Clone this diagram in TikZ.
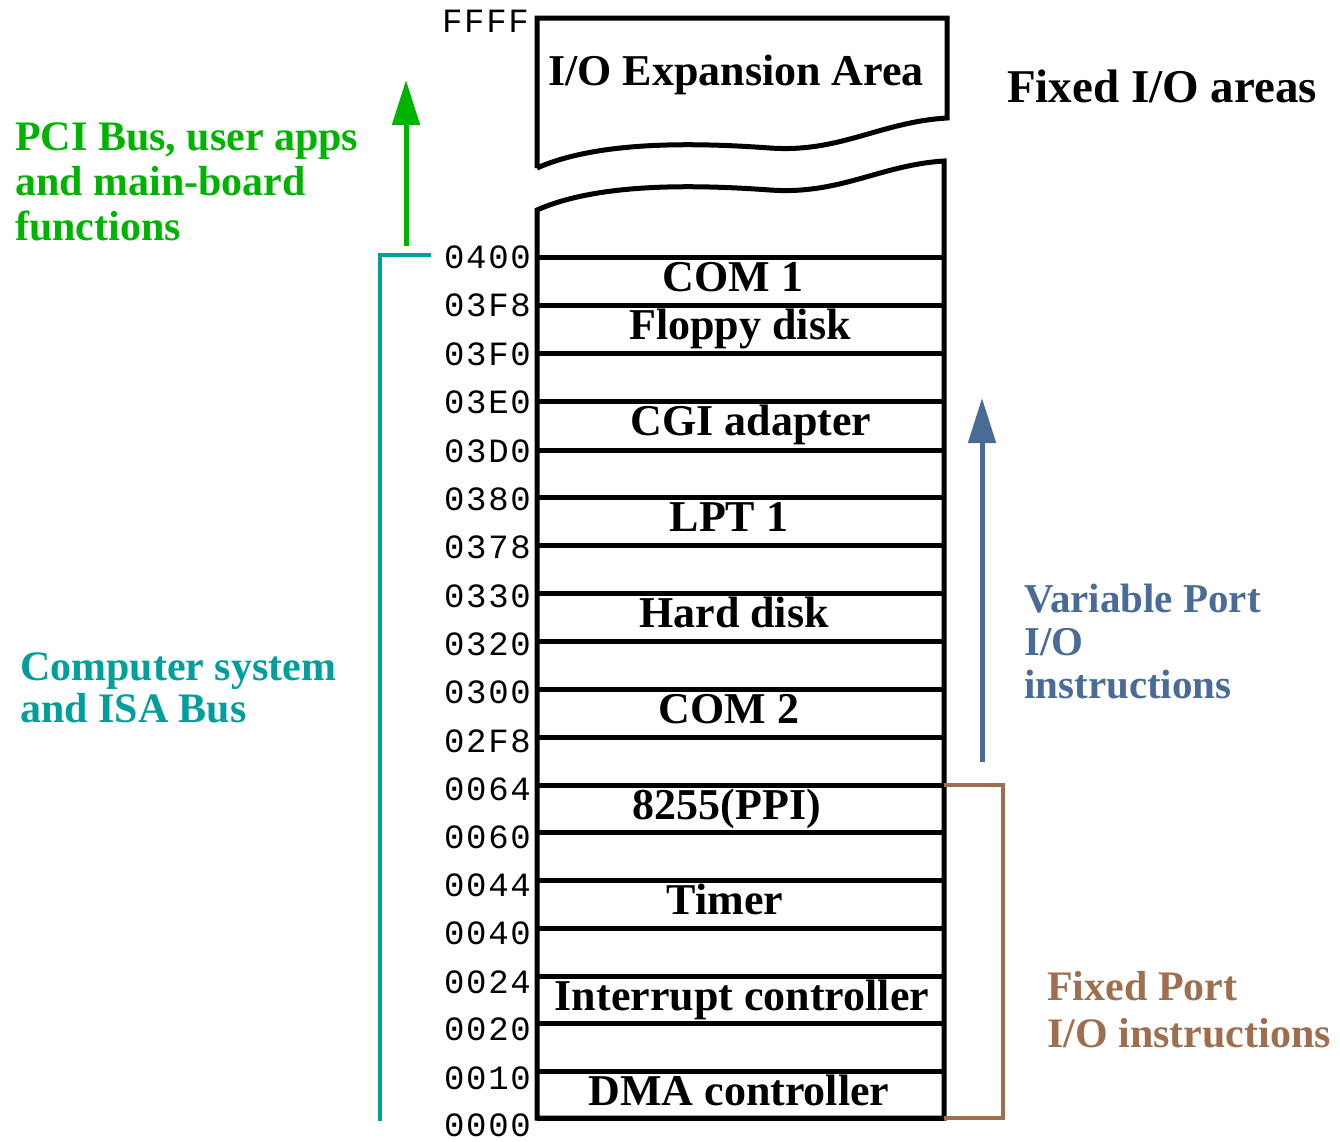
\documentclass[tikz,border=0pt]{standalone}
\usepackage{fontspec}
\setmainfont{Liberation Serif}
\setmonofont[LetterSpace=5]{Liberation Mono}
\usetikzlibrary{arrows.meta}
\definecolor{pcigreen}{HTML}{00B300}
\definecolor{isateal}{HTML}{009F9C}
\definecolor{varblue}{HTML}{4A6B96}
\definecolor{fixbrown}{HTML}{9E6E4E}

\begin{document}
\begin{tikzpicture}[x=1pt,y=-1pt,
  frame/.style={line width=5pt, line join=miter},
  addr/.style={font=\fontsize{34}{34}\selectfont\ttfamily, anchor=east, inner sep=0pt},
  cell/.style={font=\fontsize{44}{44}\selectfont\bfseries, anchor=base, inner sep=0pt},
  note/.style={font=\fontsize{42}{44}\selectfont\bfseries, align=left, anchor=base west, inner sep=0pt},
  uparrow/.style={line width=5pt, -{Triangle[length=45pt,width=27pt]}},
]
\useasboundingbox (0,0) rectangle (1340,1141);

% upper block: expansion area with torn lower edge
\draw[frame] (537,168) -- (537,18) -- (947,18) -- (947,118)
  .. controls (880,122) and (840,153) .. (770,148)
  .. controls (700,143) and (600,140) .. (537,168);
% lower block: fixed I/O region with torn upper edge
\draw[frame] (537,210) .. controls (600,182) and (700,185) .. (770,190)
  .. controls (840,195) and (880,165) .. (944,161)
  -- (944,1118) -- (537,1118) -- cycle;

% row separators and address labels
\foreach \y/\a/\k in {257/0400/0,305/03F8/1,353/03F0/2,401/03E0/3,450/03D0/4,
  497/0380/5,545/0378/6,593/0330/7,641/0320/8,689/0300/9,737/02F8/10,
  785/0064/11,832/0060/12,880/0044/13,928/0040/14,976/0024/15,1023/0020/16,
  1071/0010/17,1118/0000/18}{
  \draw[frame] (537,\y) -- (944,\y);
  \node[addr] (addr\a) at (531,\y+0.4*\k) {\a};
}
\node[addr] (addrFFFF) at (529,21) {FFFF};

% region names
\node[cell] (expansion) at (736,85) {I/O Expansion Area};
\node[cell] (com1)   at (733,291)  {COM 1};
\node[cell] (floppy) at (740,339)  {Floppy disk};
\node[cell] (cga)    at (751,435)  {CGI adapter};
\node[cell] (lpt1)   at (729,531)  {LPT 1};
\node[cell] (hdd)    at (734,627)  {Hard disk};
\node[cell] (com2)   at (729,723)  {COM 2};
\node[cell] (ppi)    at (727,819)  {8255(PPI)};
\node[cell] (timer)  at (725,914)  {Timer};
\node[cell] (pic)    at (742,1010) {Interrupt controller};
\node[cell] (dma)    at (739,1105) {DMA controller};

\node[note, font=\fontsize{47}{47}\selectfont\bfseries] (fixedareas) at (1007,102) {Fixed I/O areas};

% PCI / user range
\coordinate (pciFoot) at (406,246);
\coordinate (pciTip) at (406,80);
\draw[uparrow, pcigreen] (pciFoot) -- (pciTip);
\node[note, text=pcigreen, font=\fontsize{42}{45}\selectfont\bfseries] (pcitext) at (15,240) {PCI Bus, user apps\\and main-board\\functions};

% ISA range
\coordinate (isaTop) at (431,255);
\coordinate (isaCorner) at (380,255);
\coordinate (isaBottom) at (380,1121);
\draw[isateal, line width=4pt] (isaTop) -- (isaCorner) -- (isaBottom);
\node[note, text=isateal, font=\fontsize{42}{42}\selectfont\bfseries] (isatext) at (20,722) {Computer system\\and ISA Bus};

% variable port range
\coordinate (varFoot) at (982,762);
\coordinate (varTip) at (982,398);
\draw[uparrow, varblue] (varFoot) -- (varTip);
\node[note, text=varblue, font=\fontsize{41}{43}\selectfont\bfseries] (vartext) at (1024,698) {Variable Port\\I/O\\instructions};

% fixed port range bracket
\coordinate (fixA) at (944,785);
\coordinate (fixB) at (1003,785);
\coordinate (fixC) at (1003,1118);
\coordinate (fixD) at (944,1118);
\draw[fixbrown, line width=4.5pt] (fixA) -- (fixB) -- (fixC) -- (fixD);
\node[note, text=fixbrown, font=\fontsize{42}{47}\selectfont\bfseries] (fixtext) at (1047,1047) {Fixed Port\\I/O instructions};
\end{tikzpicture}
\end{document}
